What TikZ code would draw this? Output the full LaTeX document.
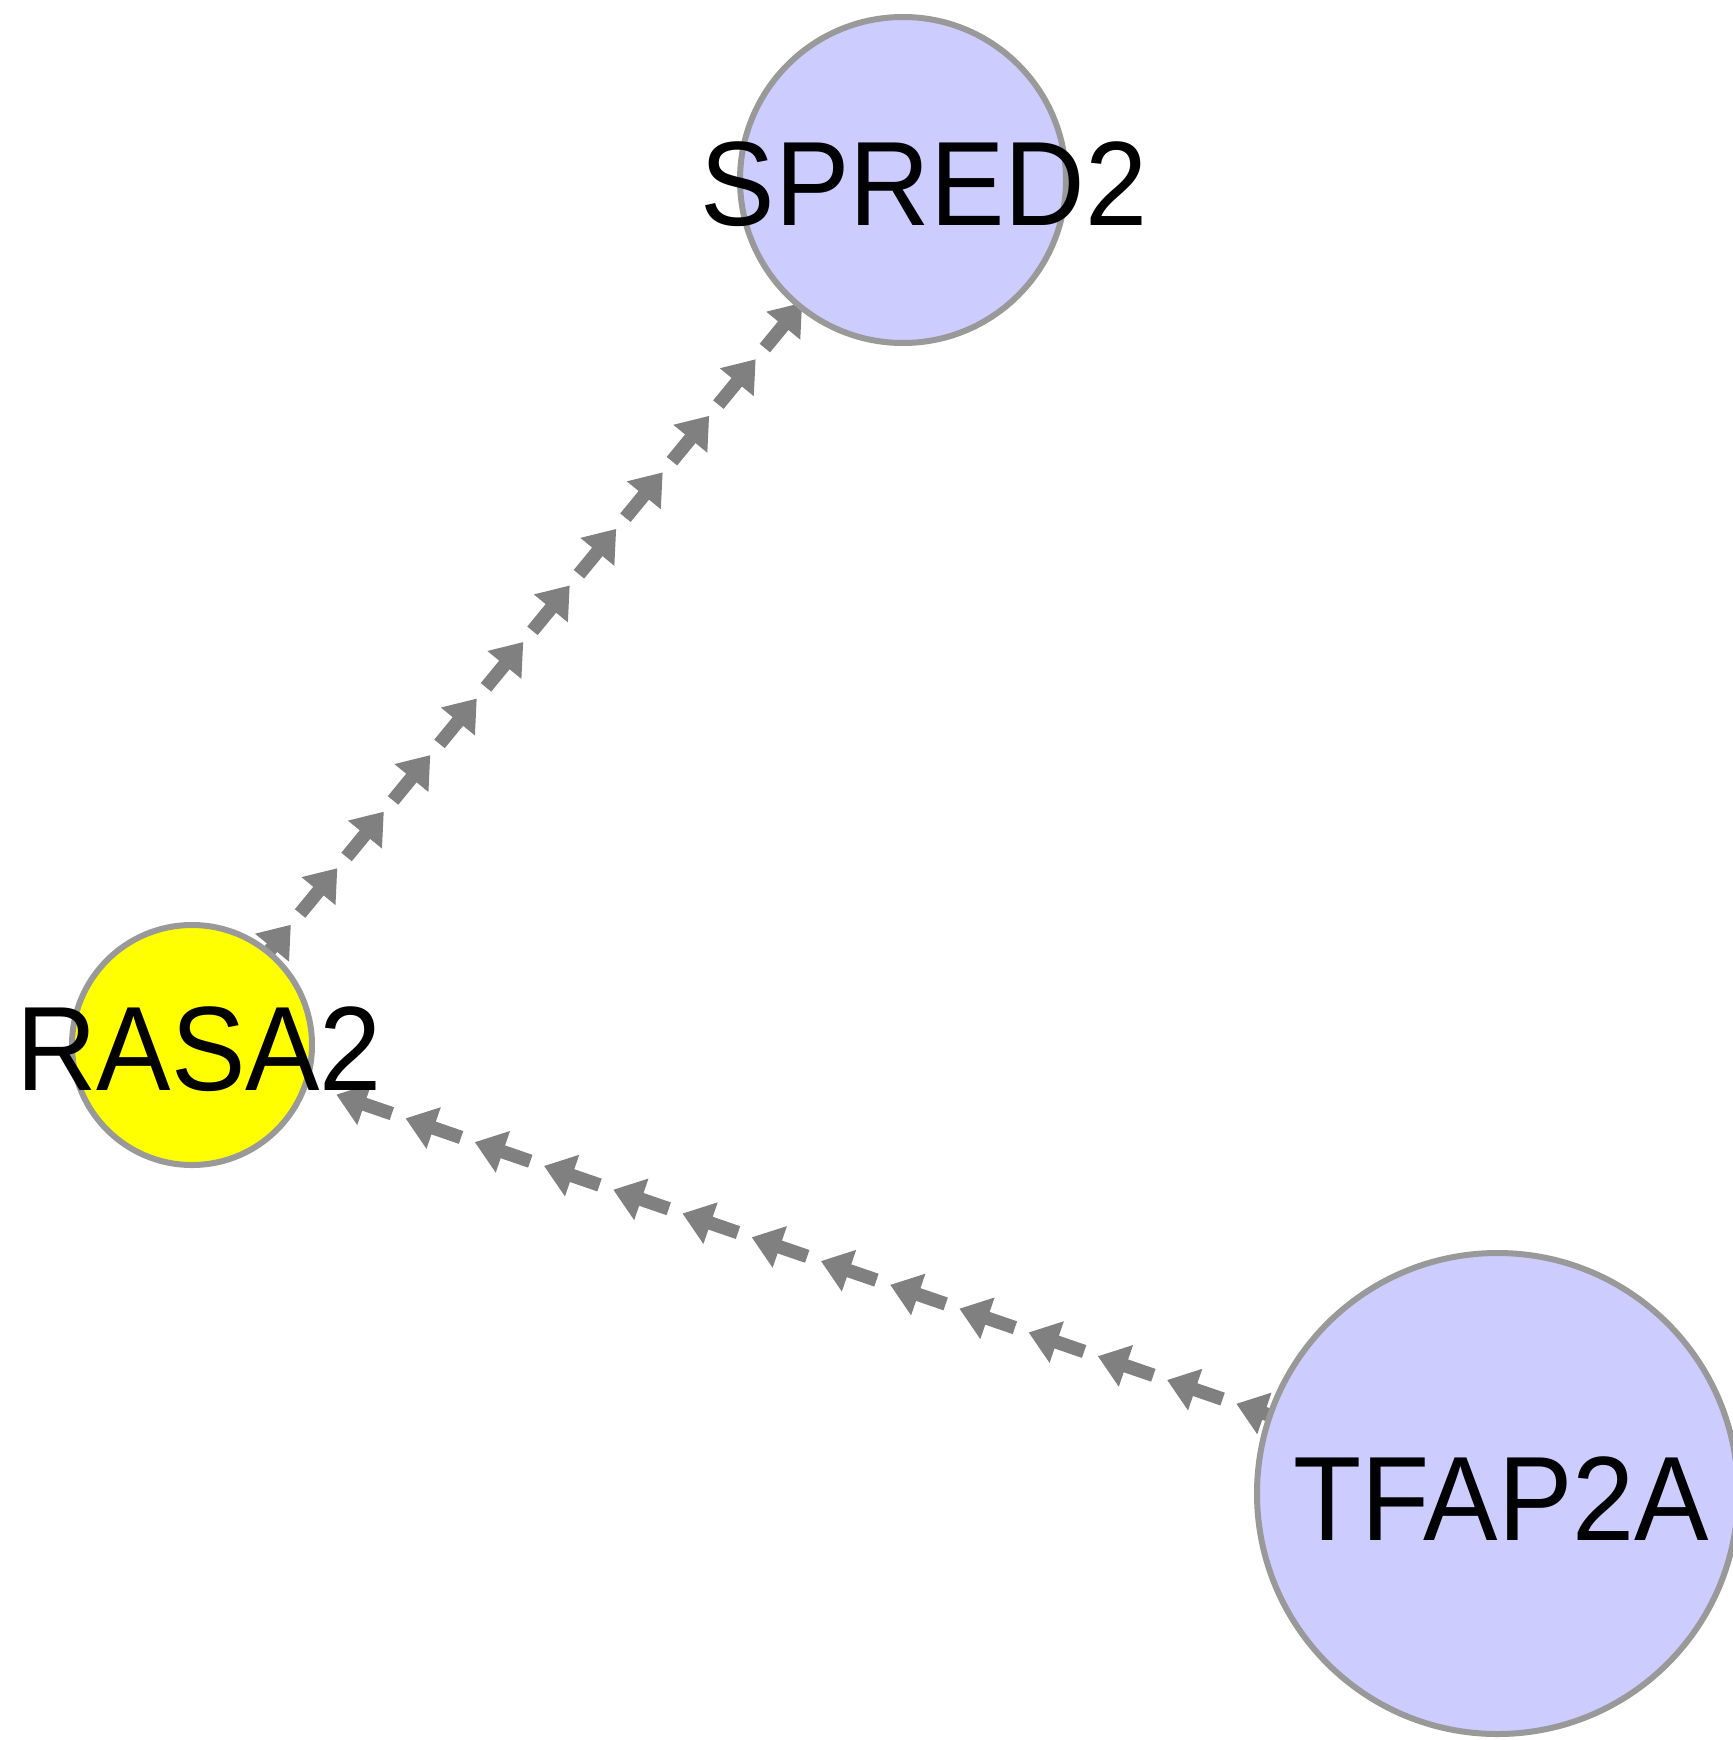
\documentclass[tikz,border=0pt]{standalone}
\usepackage{fontspec}
\setmainfont{Liberation Sans}
\newfontfamily\genefont[FakeStretch=0.93]{Liberation Sans}
\usetikzlibrary{calc,backgrounds}
\definecolor{edgegray}{HTML}{808080}
\definecolor{bordergray}{HTML}{999999}
\definecolor{lavender}{HTML}{CCCCFF}
\definecolor{geneyellow}{HTML}{FFFF00}
\tikzset{
  gene/.style={circle, draw=bordergray, line width=6pt, inner sep=0pt},
  genelabel/.style={font=\genefont\fontsize{120pt}{128pt}\selectfont, inner sep=0pt, text=black},
  shaft/.style={draw=edgegray, line width=13.5pt},
  headtri/.style={fill=edgegray},
}
% one arrow unit: tip at distance #3 (pt) from #1 toward #2
\newcommand{\arrowunit}[3]{%
  \pgfmathsetmacro\dT{#3}%
  \pgfmathsetmacro\dB{#3-29.5}%
  \pgfmathsetmacro\dBi{#3-27}%
  \pgfmathsetmacro\dS{#3-58.5}%
  \coordinate (uT) at ($(#1.center)!\dT pt!(#2.center)$);
  \coordinate (uB) at ($(#1.center)!\dB pt!(#2.center)$);
  \coordinate (uBi) at ($(#1.center)!\dBi pt!(#2.center)$);
  \coordinate (uS) at ($(#1.center)!\dS pt!(#2.center)$);
  \fill[headtri] (uT) -- ($(uB)!22pt!90:(uT)$) -- ($(uB)!22pt!-90:(uT)$) -- cycle;
  \draw[shaft] (uS) -- (uBi);
}
\begin{document}
\begin{tikzpicture}[x=1pt,y=-1pt]
  \useasboundingbox (0,0) rectangle (1732,1740);

  \node[gene, fill=lavender, minimum size=326pt,
        label={[genelabel, xshift=21pt, yshift=-4pt]center:SPRED2}] (spred) at (903,180) {};
  \node[gene, fill=geneyellow, minimum size=240pt,
        label={[genelabel, xshift=7pt, yshift=-4pt]center:RASA2}] (rasa) at (192,1045) {};
  \node[gene, fill=lavender, minimum size=481pt,
        label={[genelabel, xshift=4pt, yshift=-5pt]center:TFAP2A}] (tfap) at (1497.5,1493.5) {};

  \begin{scope}[on background layer]
    \fill[white] (0,0) rectangle (1732,1740);
    % RASA2 -> SPRED2
    \foreach \k in {0,...,11} {
      \arrowunit{rasa}{spred}{155.5+73.2*\k}
    }
    % TFAP2A -> RASA2
    \foreach \k in {0,...,13} {
      \arrowunit{tfap}{rasa}{276+73.2*\k}
    }
  \end{scope}
\end{tikzpicture}
\end{document}
